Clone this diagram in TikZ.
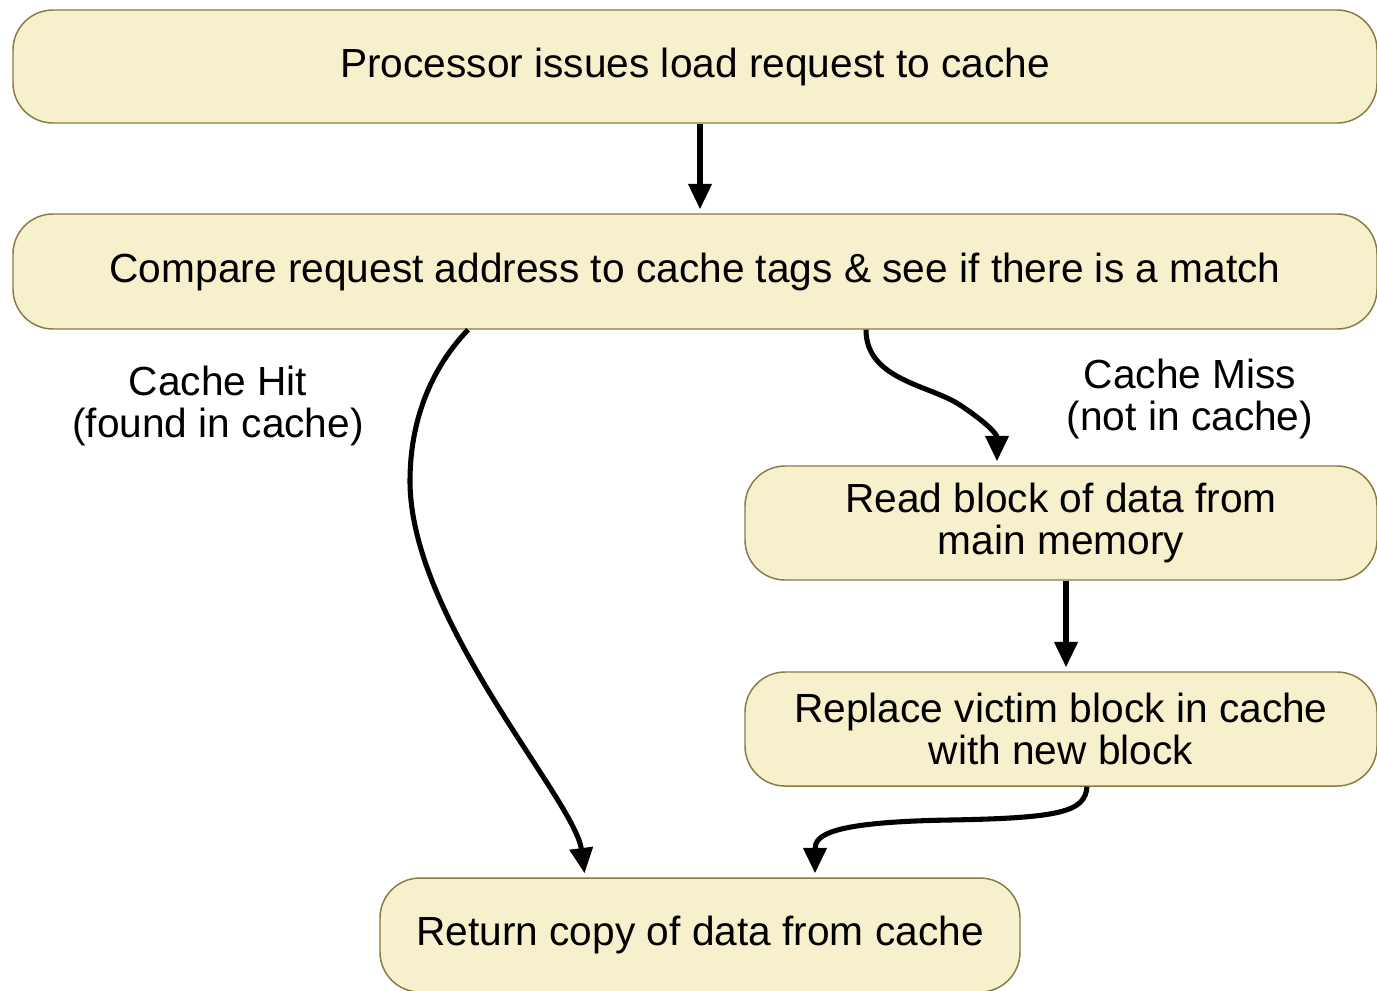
\documentclass[tikz,border=0pt]{standalone}
\usepackage{fontspec}
\setmainfont{Liberation Sans}
\usetikzlibrary{arrows.meta,calc}
\definecolor{boxfill}{RGB}{246,241,204}
\definecolor{boxline}{RGB}{138,122,68}
\begin{document}
\begin{tikzpicture}[x=0.75pt,y=-0.75pt,
  stepbox/.style={draw=boxline, fill=boxfill, line width=1.1pt,
    rounded corners=30pt, inner sep=0pt, align=center,
    font=\fontsize{30.5}{31.5}\selectfont},
  flow/.style={line width=3.8pt, -{Triangle[length=19pt,width=17pt]}, shorten >=3pt},
  lbl/.style={align=center, font=\fontsize{30.5}{31.5}\selectfont}]
\useasboundingbox (0,0) rectangle (1377,990);

% process steps
\node[stepbox, minimum width=1023pt, minimum height=84.75pt] (load) at (695,66.5)
  {Processor issues load request to cache};
\node[stepbox, minimum width=1023pt, minimum height=86.25pt] (cmp) at (695,271.5)
  {Compare request address to cache tags \& see if there is a match};
\node[stepbox, minimum width=474pt, minimum height=85.5pt] (read) at (1061,523)
  {Read block of data from\\main memory};
\node[stepbox, minimum width=474pt, minimum height=85.5pt] (repl) at (1061,729)
  {Replace victim block in cache\\with new block};
\node[stepbox, minimum width=480pt, minimum height=85.5pt] (ret) at (700,935)
  {Return copy of data from cache};

% branch labels
\node[lbl] (hit) at (218,406) {Cache Hit\\(found in cache)};
\node[lbl] (miss) at (1190,399) {Cache Miss\\(not in cache)};

% connectors
\draw[flow] ($(load.south)+(5,0)$) -- ($(cmp.north)+(5,0)$);
\draw[flow] ($(cmp.south)+(-227,0)$)
  .. controls (425,375) and (410,430) .. (410,481)
  .. controls (410,620) and (575,800) .. ($(ret.north)+(-115,0)$);
\draw[flow] ($(cmp.south)+(171,0)$)
  .. controls (866,380) and (930,385) .. (960,405)
  .. controls (990,425) and (997,435) .. ($(read.north)+(-64,0)$);
\draw[flow] ($(read.south)+(5,0)$) -- ($(repl.north)+(5,0)$);
\draw[flow] ($(repl.south)+(26,0)$)
  .. controls (1085,812) and (1060,818) .. (950,820)
  .. controls (830,822) and (815,835) .. ($(ret.north)+(115,0)$);
\end{tikzpicture}
\end{document}
